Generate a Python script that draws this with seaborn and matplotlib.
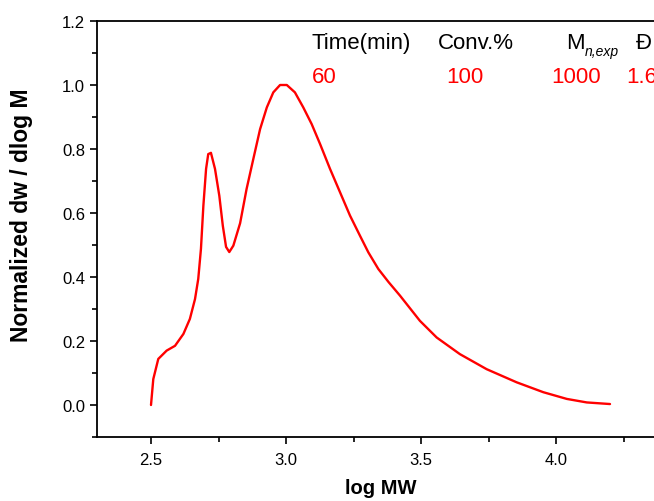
import pandas as pd
import seaborn as sns
import matplotlib.pyplot as plt
from matplotlib.ticker import MultipleLocator

sns.set_theme(style="ticks")
plt.rcParams['font.family'] = ['Liberation Sans', 'DejaVu Sans']

# GPC trace
log_mw = [2.500, 2.5085, 2.527, 2.558, 2.589, 2.620, 2.644, 2.663, 2.675, 2.685,
          2.694, 2.704, 2.712, 2.722, 2.737, 2.753, 2.766, 2.778, 2.790, 2.805,
          2.830, 2.854, 2.879, 2.904, 2.929, 2.953, 2.978, 3.003, 3.033, 3.064,
          3.095, 3.126, 3.163, 3.200, 3.237, 3.274, 3.305, 3.342, 3.380, 3.422,
          3.496, 3.558, 3.644, 3.743, 3.854, 3.953, 4.040, 4.114, 4.200]
dw_dlogm = [0.000, 0.081, 0.144, 0.170, 0.185, 0.222, 0.269, 0.331, 0.394, 0.488,
            0.623, 0.738, 0.784, 0.788, 0.738, 0.654, 0.560, 0.494, 0.478, 0.498,
            0.568, 0.675, 0.769, 0.862, 0.930, 0.977, 1.000, 1.000, 0.977, 0.930,
            0.878, 0.816, 0.738, 0.665, 0.592, 0.529, 0.477, 0.425, 0.384, 0.342,
            0.263, 0.211, 0.159, 0.112, 0.071, 0.040, 0.019, 0.008, 0.003]

headers = ["Time(min)", "Conv.%", "M", "Đ"]
values = ["60", "100", "1000", "1.6"]
subscript = "n,exp"

df = pd.DataFrame({"logMW": log_mw, "dw": dw_dlogm})

fig = plt.figure(figsize=(6.54, 5.02), dpi=100)
ax = fig.add_axes([97 / 654, 64 / 502, 567 / 654, 416 / 502])

sns.lineplot(data=df, x="logMW", y="dw", color="#ff0000", linewidth=1.7, ax=ax)
ax.lines[0].set_solid_joinstyle("round")

ax.set_xlim(2.3, 4.4)
ax.set_ylim(-0.1, 1.2)
ax.xaxis.set_major_locator(MultipleLocator(0.5))
ax.xaxis.set_minor_locator(MultipleLocator(0.25))
ax.yaxis.set_major_locator(MultipleLocator(0.2))
ax.yaxis.set_minor_locator(MultipleLocator(0.1))
ax.set_xticks([2.5, 3.0, 3.5, 4.0])
ax.tick_params(which="major", direction="out", length=5, width=1.2, labelsize=12,
               color="black", labelcolor="black")
ax.tick_params(which="minor", direction="out", length=3.5, width=1.2, color="black")
ax.tick_params(axis="x", which="major", pad=5.5)
ax.tick_params(axis="y", which="major", pad=3.5)

for side in ["left", "bottom", "top"]:
    ax.spines[side].set_linewidth(1.3)
    ax.spines[side].set_color("black")
ax.spines["right"].set_visible(False)

ax.set_xlabel("log MW", fontsize=14.5, fontweight="bold", color="black", labelpad=8)
ax.set_ylabel("Normalized dw / dlog M", fontsize=16.5, fontweight="bold", color="black")
ax.yaxis.set_label_coords(-0.113, 0.535)

# header row and red values row
header_x = [3.096, 3.563, 4.037, 4.296]
value_x = [3.096, 3.593, 3.981, 4.259]
for hx, h in zip(header_x, headers):
    ax.text(hx, 1.134, h, fontsize=16, color="black", ha="left", va="center", clip_on=False)
ax.text(4.105, 1.106, subscript, fontsize=10, style="italic", color="black",
        ha="left", va="center", clip_on=False)
for vx, v in zip(value_x, values):
    ax.text(vx, 1.028, v, fontsize=16, color="#ff0000", ha="left", va="center", clip_on=False)

fig.savefig("out.png", dpi=100)
